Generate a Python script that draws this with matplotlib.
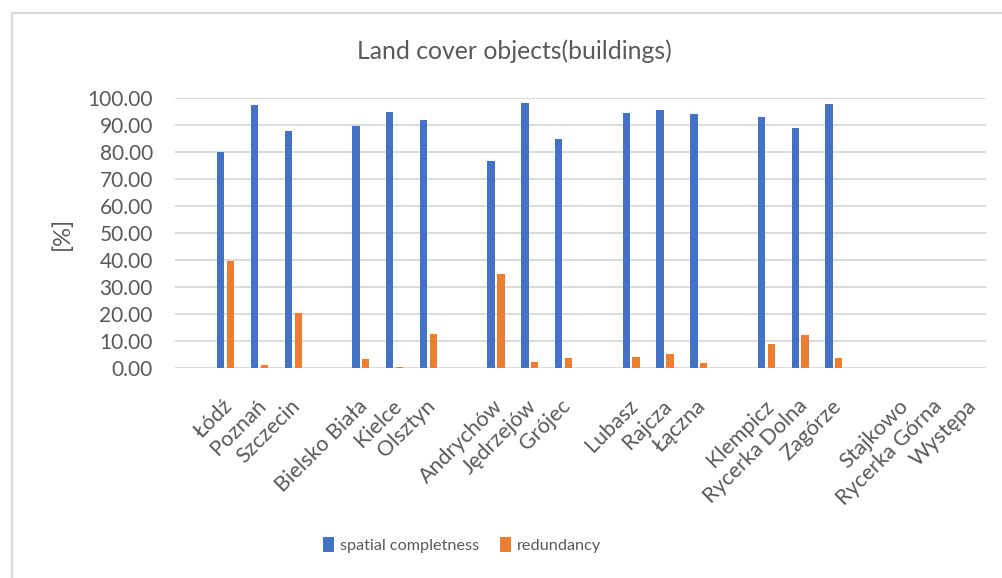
import numpy as np
import matplotlib
matplotlib.use("Agg")
import matplotlib.pyplot as plt
import matplotlib.transforms as mtransforms

plt.rcParams['font.family'] = ['Lato', 'DejaVu Sans']

# Category slots; empty strings are spacer slots between town groups
categories = ['', 'Łódź', 'Poznań', 'Szczecin',
              '', 'Bielsko Biała', 'Kielce', 'Olsztyn',
              '', 'Andrychów', 'Jędrzejów', 'Grójec',
              '', 'Lubasz', 'Rajcza', 'Łączna',
              '', 'Klempicz', 'Rycerka Dolna', 'Zagórze',
              '', 'Stajkowo', 'Rycerka Górna', 'Występa']

nan = np.nan
spatial_completeness = [nan, 80.0, 97.3, 87.7,
                        nan, 89.8, 94.8, 91.7,
                        nan, 76.7, 98.0, 84.8,
                        nan, 94.3, 95.6, 94.1,
                        nan, 92.8, 88.8, 97.8,
                        nan, nan, nan, nan]
redundancy = [nan, 39.7, 1.2, 20.5,
              nan, 3.5, 0.5, 12.6,
              nan, 34.8, 2.3, 3.8,
              nan, 4.3, 5.3, 1.8,
              nan, 9.0, 12.5, 3.8,
              nan, nan, nan, nan]

y_ticks = np.arange(0, 101, 10)

BLUE = '#4472C4'
ORANGE = '#ED7D31'
TEXT = '#595959'
GRID = '#D9D9D9'

fig = plt.figure(figsize=(10.03, 5.78), dpi=100)
fig.patch.set_facecolor('white')

# chart-area frame (only left and top edges fall inside the canvas)
fig.add_artist(plt.Rectangle((12.5 / 1003, -0.2), 1.5, (578 - 12.5) / 578 + 0.2,
                             transform=fig.transFigure, fill=False,
                             edgecolor=GRID, linewidth=1.6))

ax = fig.add_axes([175 / 1003, (578 - 368.3) / 578, 811 / 1003, 270.3 / 578])

x = np.arange(len(categories))
w = 0.215
ax.bar(x - 0.145, spatial_completeness, width=w, color=BLUE, label='spatial completness', zorder=3)
ax.bar(x + 0.145, redundancy, width=w, color=ORANGE, label='redundancy', zorder=3)

ax.set_xlim(-0.5, len(categories) - 0.5)
ax.set_ylim(0, 100)
ax.set_yticks(y_ticks)
ax.set_yticklabels([f'{v:.2f}' for v in y_ticks])
ax.yaxis.grid(True, color=GRID, linewidth=1.3, zorder=0)
ax.set_axisbelow(True)
for s in ax.spines.values():
    s.set_visible(False)

ax.tick_params(axis='y', length=0, pad=16, labelsize=15, labelcolor=TEXT)
ax.tick_params(axis='x', length=0, pad=25, labelsize=15.5, labelcolor=TEXT)

ax.set_xticks(x)
ax.set_xticklabels(categories, rotation=45, ha='right', va='center',
                   rotation_mode='anchor')
shift = mtransforms.ScaledTranslation(4 / 100, 0, fig.dpi_scale_trans)
for lbl in ax.get_xticklabels():
    lbl.set_transform(lbl.get_transform() + shift)

fig.text(62 / 1003, 1 - 233 / 578, '[%]', rotation=90, ha='center', va='center',
         fontsize=17, color=TEXT)

fig.text(514 / 1003, 1 - 51 / 578, 'Land cover objects(buildings)', ha='center', va='center',
         fontsize=17.8, color=TEXT)

leg = fig.legend(loc='center', bbox_to_anchor=(462 / 1003, 1 - 545 / 578), ncol=2,
                 frameon=False, fontsize=11.7, handlelength=0.7, handleheight=1.1,
                 handletextpad=0.35, columnspacing=1.3)
for t in leg.get_texts():
    t.set_color(TEXT)

fig.savefig('out.png', dpi=100, facecolor='white')
